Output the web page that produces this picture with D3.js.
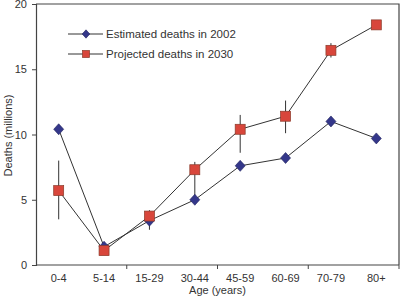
<!DOCTYPE html>
<html>
<head>
<meta charset="utf-8">
<script src="https://cdn.jsdelivr.net/npm/d3@7"></script>
<style>
  body { margin: 0; background: #fff; }
  svg { display: block; font-family: "Liberation Sans", Arial, sans-serif; }
</style>
</head>
<body>
<div id="chart"></div>
<script>
// --- Data ---
const ageGroups = ["0-4", "5-14", "15-29", "30-44", "45-59", "60-69", "70-79", "80+"];
const deaths2002 = [10.4, 1.4, 3.4, 5.0, 7.6, 8.2, 11.0, 9.7];
const deaths2030 = [5.7, 1.1, 3.75, 7.3, 10.4, 11.4, 16.45, 18.4];
const err2030Low = [3.5, 1.1, 2.7, 5.1, 8.6, 10.1, 15.9, 18.4];
const err2030High = [8.0, 1.1, 4.2, 7.9, 11.5, 12.6, 17.0, 18.4];
const yTicks = [0, 5, 10, 15, 20];
const seriesNames = ["Estimated deaths in 2002", "Projected deaths in 2030"];

// --- Dimensions ---
const width = 400;
const height = 306;
const margin = { top: 4, right: 1, bottom: 41, left: 36 };

const svg = d3.select("#chart").append("svg")
  .attr("width", width)
  .attr("height", height);

const x = d3.scaleBand().domain(ageGroups).range([margin.left, width - margin.right]);
const y = d3.scaleLinear().domain([0, 20]).range([height - margin.bottom, margin.top]);

const axisColor = "#444";
const textColor = "#333";
const lineColor = "#333";
const blue = "#34378a";
const red = "#d8463b";

// frame (top and right)
svg.append("path")
  .attr("d", `M${margin.left},${margin.top}H${width - margin.right}V${height - margin.bottom}`)
  .attr("fill", "none")
  .attr("stroke", axisColor)
  .attr("stroke-width", 1.2);

// --- Y axis ---
const yAxis = svg.append("g")
  .attr("transform", `translate(${margin.left},0)`)
  .call(d3.axisLeft(y).tickValues(yTicks).tickSize(4).tickPadding(5));
yAxis.select(".domain").attr("stroke", axisColor).attr("stroke-width", 1.2);
yAxis.selectAll(".tick line").attr("stroke", axisColor);
yAxis.selectAll("text").attr("font-size", 11).attr("fill", textColor).attr("font-family", null);

// --- X axis: ticks at every second category boundary ---
const xBase = height - margin.bottom;
svg.append("line")
  .attr("x1", margin.left).attr("x2", width - margin.right)
  .attr("y1", xBase).attr("y2", xBase)
  .attr("stroke", axisColor).attr("stroke-width", 1.2);
const boundaries = ageGroups.map((d, i) => i).filter(i => i % 2 === 1)
  .map(i => x(ageGroups[i]) + x.bandwidth());
svg.selectAll(".xtick").data(boundaries).join("line")
  .attr("class", "xtick")
  .attr("x1", d => d).attr("x2", d => d)
  .attr("y1", xBase).attr("y2", xBase + 4)
  .attr("stroke", axisColor);
svg.selectAll(".xlabel").data(ageGroups).join("text")
  .attr("class", "xlabel")
  .attr("x", d => x(d) + x.bandwidth() / 2)
  .attr("y", xBase + 17)
  .attr("text-anchor", "middle")
  .attr("font-size", 11)
  .attr("fill", textColor)
  .text(d => d);

// axis titles
svg.append("text")
  .attr("x", margin.left + (width - margin.left - margin.right) / 2)
  .attr("y", 294)
  .attr("text-anchor", "middle")
  .attr("font-size", 11)
  .attr("fill", textColor)
  .text("Age (years)");
svg.append("text")
  .attr("transform", `translate(12,${y(10) + 1}) rotate(-90)`)
  .attr("text-anchor", "middle")
  .attr("font-size", 11)
  .attr("fill", textColor)
  .text("Deaths (millions)");

const cx = d => x(d) + x.bandwidth() / 2;
const line = d3.line().x(d => cx(d[0])).y(d => y(d[1]));

// --- Error bars (2030) ---
svg.selectAll(".err").data(ageGroups).join("line")
  .attr("class", "err")
  .attr("x1", d => cx(d)).attr("x2", d => cx(d))
  .attr("y1", (d, i) => y(err2030Low[i]))
  .attr("y2", (d, i) => y(err2030High[i]))
  .attr("stroke", lineColor).attr("stroke-width", 1);

// --- Lines ---
svg.append("path")
  .datum(ageGroups.map((d, i) => [d, deaths2002[i]]))
  .attr("d", line).attr("fill", "none").attr("stroke", lineColor).attr("stroke-width", 1);
svg.append("path")
  .datum(ageGroups.map((d, i) => [d, deaths2030[i]]))
  .attr("d", line).attr("fill", "none").attr("stroke", lineColor).attr("stroke-width", 1);

// --- Markers ---
const diamond = (px, py, r = 5) => `M${px},${py - r * 1.1}L${px + r},${py}L${px},${py + r * 1.1}L${px - r},${py}Z`;
svg.selectAll(".m2002").data(ageGroups).join("path")
  .attr("class", "m2002")
  .attr("d", (d, i) => diamond(cx(d), y(deaths2002[i])))
  .attr("fill", blue).attr("stroke", "#22245e").attr("stroke-width", 0.6);
svg.selectAll(".m2030").data(ageGroups).join("rect")
  .attr("class", "m2030")
  .attr("x", d => cx(d) - 5).attr("y", (d, i) => y(deaths2030[i]) - 5)
  .attr("width", 10).attr("height", 10)
  .attr("fill", red).attr("stroke", "#8a3a2a").attr("stroke-width", 0.7);

// --- Legend ---
const legendY = [34, 54];
legendY.forEach((ly, i) => {
  svg.append("line")
    .attr("x1", 68).attr("x2", 103).attr("y1", ly).attr("y2", ly)
    .attr("stroke", lineColor).attr("stroke-width", 1);
  if (i === 0) {
    svg.append("path").attr("d", diamond(86, ly, 3.8))
      .attr("fill", blue).attr("stroke", "#22245e").attr("stroke-width", 0.6);
  } else {
    svg.append("rect").attr("x", 82.5).attr("y", ly - 3.5).attr("width", 7).attr("height", 7)
      .attr("fill", red).attr("stroke", "#8a3a2a").attr("stroke-width", 0.7);
  }
  svg.append("text")
    .attr("x", 106).attr("y", ly + 4)
    .attr("font-size", 11.5)
    .attr("fill", textColor)
    .text(seriesNames[i]);
});
</script>
</body>
</html>
